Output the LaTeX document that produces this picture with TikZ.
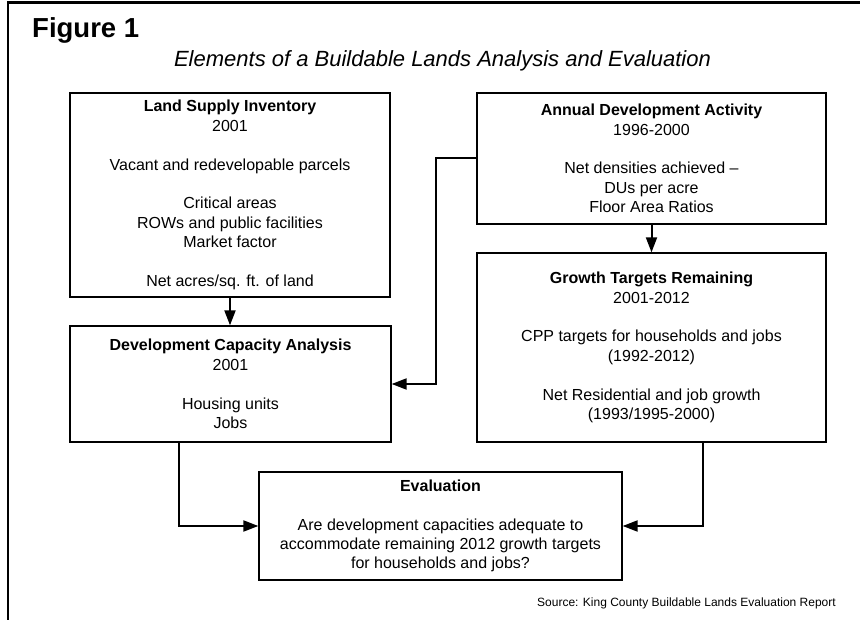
\documentclass[tikz,border=0pt]{standalone}
\usepackage{fontspec}
\setmainfont{Liberation Sans}
\usetikzlibrary{arrows.meta}
\begin{document}
\begin{tikzpicture}[x=1pt,y=-1pt,
  box/.style={draw, line width=1.3pt, align=center, inner sep=0pt, font=\fontsize{16}{19.4}\selectfont},
  conn/.style={line width=2pt, -{Triangle[length=15pt,width=11pt]}}]
\useasboundingbox (0,0) rectangle (860,620);
\draw[line width=2.2pt] (8,620) -- (8,2.5) -- (860,2.5);
\node[anchor=base west, inner sep=0pt, font=\fontsize{27.5}{30}\selectfont\bfseries] (fig) at (32,37.5) {Figure 1};
\node[anchor=base, inner sep=0pt, font=\fontsize{22}{26}\selectfont\itshape] (title) at (442.5,67) {Elements of a Buildable Lands Analysis and Evaluation};
\node[box, minimum width=320, minimum height=204] (land) at (230,195) {\textbf{Land Supply Inventory}\\2001\\[19.4pt]Vacant and redevelopable parcels\\[19.4pt]Critical areas\\ROWs and public facilities\\Market factor\\[19.4pt]Net acres/sq. ft. of land};
\node[box, minimum width=349, minimum height=131] (annual) at (651.5,158.5) {\textbf{Annual Development Activity}\\1996-2000\\[19.4pt]Net densities achieved –\\DUs per acre\\Floor Area Ratios};
\node[box, minimum width=349, minimum height=189] (growth) at (651.5,347.5) {\textbf{Growth Targets Remaining}\\2001-2012\\[19.4pt]CPP targets for households and jobs\\(1992-2012)\\[19.4pt]Net Residential and job growth\\(1993/1995-2000)};
\node[box, minimum width=321, minimum height=116] (dev) at (230.5,384) {\textbf{Development Capacity Analysis}\\2001\\[19.4pt]Housing units\\Jobs};
\node[box, minimum width=363, minimum height=108] (eval) at (440.5,526) {\textbf{Evaluation}\\[19.4pt]Are development capacities adequate to\\accommodate remaining 2012 growth targets\\for households and jobs?};
\node[anchor=base east, inner sep=0pt, font=\fontsize{12}{14}\selectfont] (src) at (836,606) {Source: King County Buildable Lands Evaluation Report};
\coordinate (k1) at (436,0);
\coordinate (k2) at (179,0);
\coordinate (k3) at (703,0);
\draw[conn] (land.south) -- (land.south |- dev.north);
\draw[conn] (annual.south) -- (growth.north);
\draw[conn] (annual.west) -- (annual.west -| k1) -- (dev.east -| k1) -- (dev.east);
\draw[conn] (dev.south -| k2) |- (eval.west);
\draw[conn] (growth.south -| k3) |- (eval.east);
\end{tikzpicture}
\end{document}
